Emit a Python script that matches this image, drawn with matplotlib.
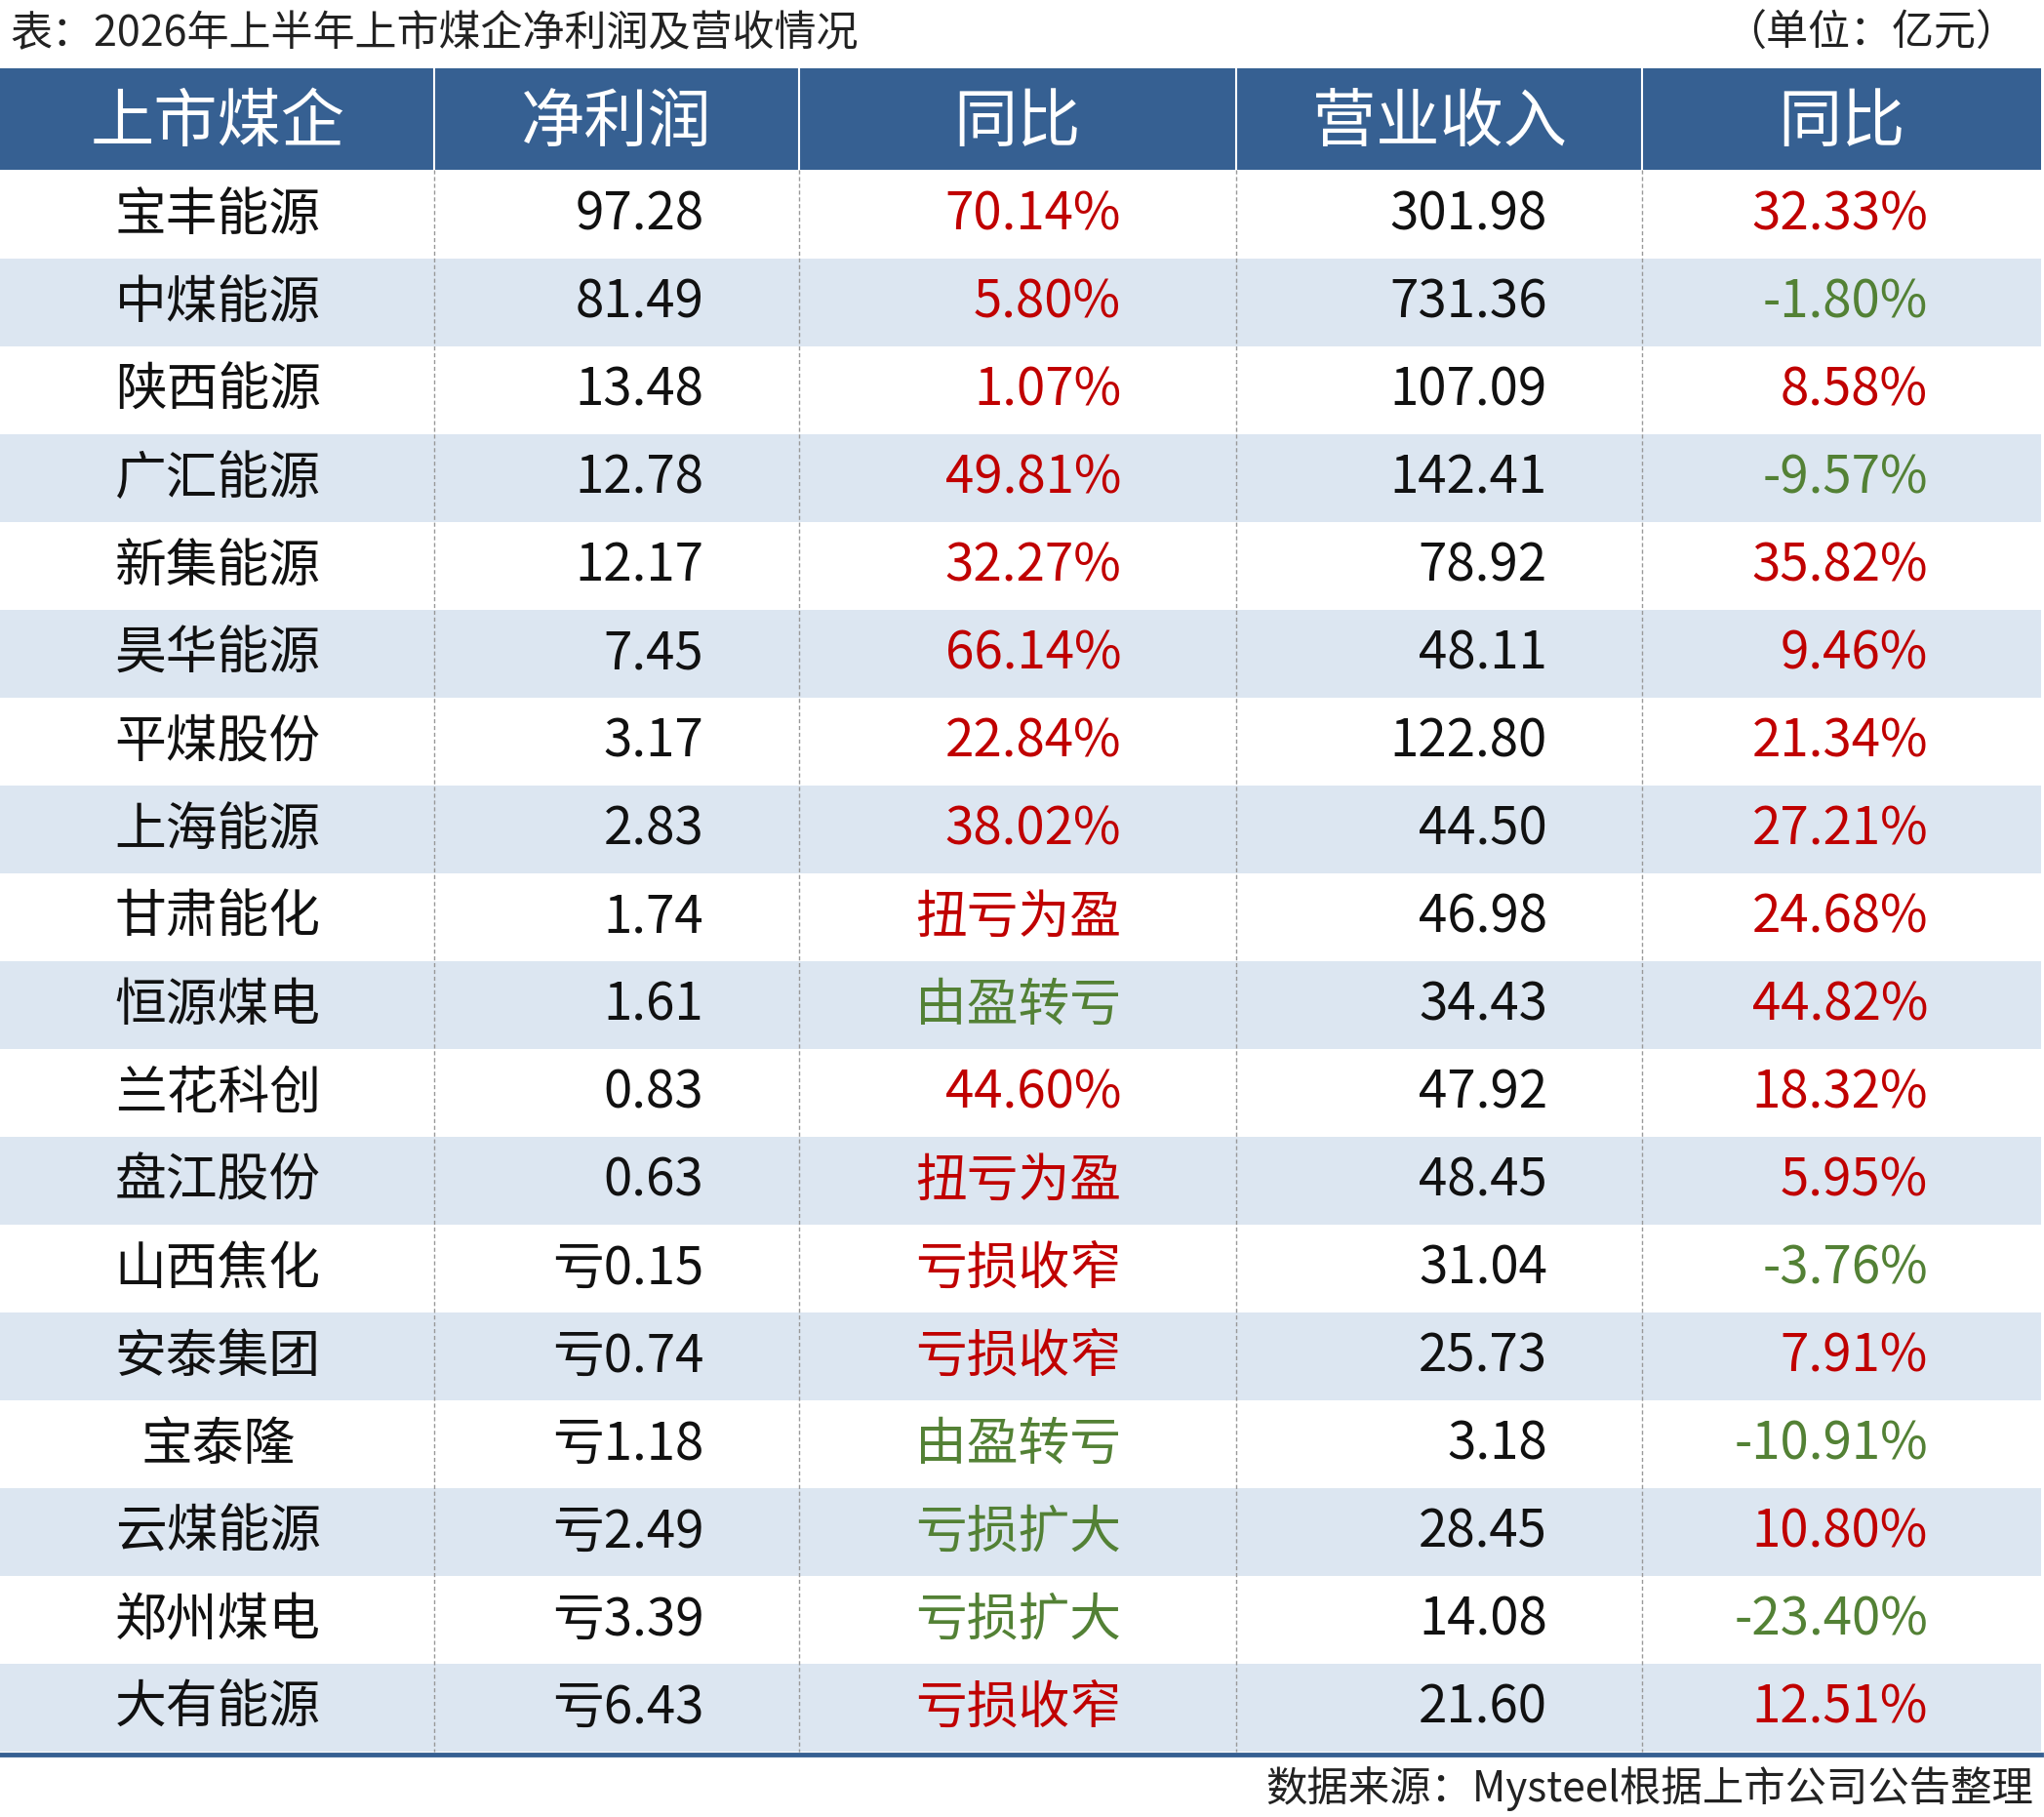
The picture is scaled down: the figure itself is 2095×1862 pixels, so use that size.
import matplotlib
matplotlib.use("Agg")
import matplotlib.pyplot as plt
from matplotlib.patches import Rectangle

plt.rcParams['font.family'] = ['Noto Sans CJK SC', 'DejaVu Sans']

# ---- data ----
companies = ["宝丰能源", "中煤能源", "陕西能源", "广汇能源", "新集能源", "昊华能源", "平煤股份", "上海能源", "甘肃能化",
             "恒源煤电", "兰花科创", "盘江股份", "山西焦化", "安泰集团", "宝泰隆", "云煤能源", "郑州煤电", "大有能源"]
net_profit = ["97.28", "81.49", "13.48", "12.78", "12.17", "7.45", "3.17", "2.83", "1.74",
              "1.61", "0.83", "0.63", "亏0.15", "亏0.74", "亏1.18", "亏2.49", "亏3.39", "亏6.43"]
profit_yoy = ["70.14%", "5.80%", "1.07%", "49.81%", "32.27%", "66.14%", "22.84%", "38.02%", "扭亏为盈",
              "由盈转亏", "44.60%", "扭亏为盈", "亏损收窄", "亏损收窄", "由盈转亏", "亏损扩大", "亏损扩大", "亏损收窄"]
revenue = ["301.98", "731.36", "107.09", "142.41", "78.92", "48.11", "122.80", "44.50", "46.98",
           "34.43", "47.92", "48.45", "31.04", "25.73", "3.18", "28.45", "14.08", "21.60"]
revenue_yoy = ["32.33%", "-1.80%", "8.58%", "-9.57%", "35.82%", "9.46%", "21.34%", "27.21%", "24.68%",
               "44.82%", "18.32%", "5.95%", "-3.76%", "7.91%", "-10.91%", "10.80%", "-23.40%", "12.51%"]
headers = ["上市煤企", "净利润", "同比", "营业收入", "同比"]

RED = "#c00000"
GREEN = "#538135"
HEAD = "#366092"
STRIPE = "#dce6f1"

def color_for(s):
    if s in ("由盈转亏", "亏损扩大") or s.startswith("-"):
        return GREEN
    return RED

# ---- layout (in 1568 x 1393 reference units) ----
W, H = 1568, 1393
col_x = [0, 333, 613, 948, 1260, 1566]
head_top, head_bot = 52, 130
row_h = (1343 - 131) / len(companies)

fig = plt.figure(figsize=(20.95, 18.62), dpi=100)
ax = fig.add_axes([0, 0, 1, 1])
ax.set_xlim(0, W)
ax.set_ylim(H, 0)
ax.set_axis_off()

ax.text(8, 26, "表：2026年上半年上市煤企净利润及营收情况", fontsize=31, fontweight="medium",
        ha="left", va="center", color="#222222")
ax.text(1548, 26, "（单位：亿元）", fontsize=31, fontweight="medium", ha="right", va="center", color="#222222")

ax.add_patch(Rectangle((0, head_top), 1566, head_bot - head_top, color=HEAD, lw=0))
for i, h in enumerate(headers):
    cx = (col_x[i] + col_x[i + 1]) / 2
    if i == 0:
        cx = 167
    ax.text(cx, (head_top + head_bot) / 2 + 4, h, fontsize=47, color="white", ha="center", va="center")
for x in col_x[1:-1]:
    ax.plot([x, x], [head_top, head_bot], color="white", lw=1.5)

right_x = [None, 540, 860, 1187, 1479]
for r in range(len(companies)):
    y0 = 131 + r * row_h
    if r % 2 == 1:
        ax.add_patch(Rectangle((0, y0), 1566, row_h, color=STRIPE, lw=0))
    yc = y0 + row_h / 2
    ax.text(167, yc, companies[r], fontsize=38, ha="center", va="center", color="#111111")
    ax.text(right_x[1], yc, net_profit[r], fontsize=38, ha="right", va="center", color="#111111")
    ax.text(right_x[2], yc, profit_yoy[r], fontsize=38, ha="right", va="center", color=color_for(profit_yoy[r]))
    ax.text(right_x[3], yc, revenue[r], fontsize=38, ha="right", va="center", color="#111111")
    ax.text(right_x[4], yc, revenue_yoy[r], fontsize=38, ha="right", va="center", color=color_for(revenue_yoy[r]))

for x in col_x[1:-1]:
    ax.plot([x, x], [head_bot, 1343], color="#999999", lw=1, ls=(0, (3, 2)))
ax.plot([0, 1566], [1345, 1345], color=HEAD, lw=3.5)

ax.text(1560, 1371, "数据来源：Mysteel根据上市公司公告整理", fontsize=30.5, fontweight="medium",
        ha="right", va="center", color="#222222")

fig.savefig("out.png", dpi=100)
